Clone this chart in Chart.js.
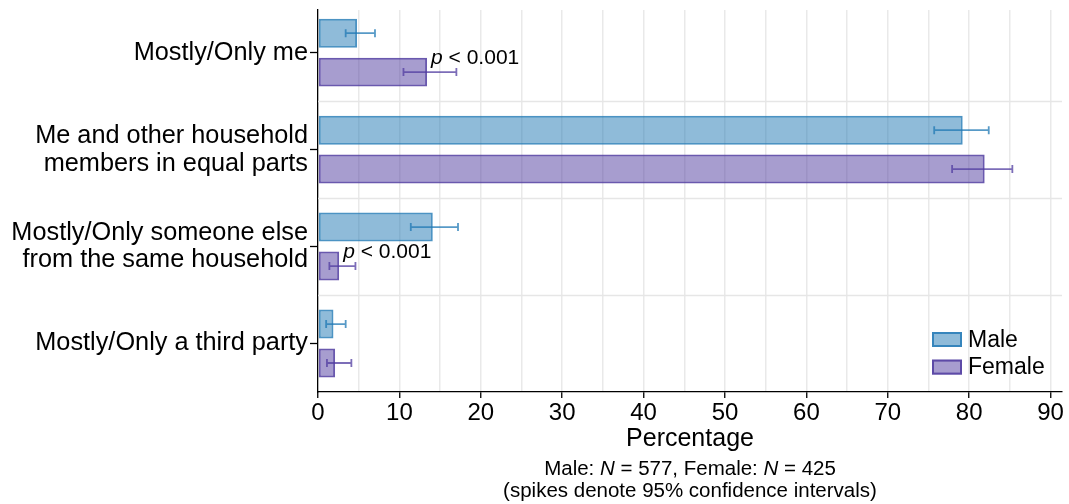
<!DOCTYPE html>
<html>
<head>
<meta charset="utf-8">
<script src="https://cdn.jsdelivr.net/npm/chart.js@4.4.1/dist/chart.umd.min.js"></script>
<style>
  html, body { margin: 0; padding: 0; background: #fff; }
  canvas { display: block; }
</style>
</head>
<body>
<canvas id="chart" width="1069" height="504"></canvas>
<script>
// Who mainly does the task, by sex (percentages with 95% confidence intervals)
const categories = [
  'Mostly/Only me',
  ['Me and other household', 'members in equal parts'],
  ['Mostly/Only someone else', 'from the same household'],
  'Mostly/Only a third party'
];
const seriesNames = ['Male', 'Female'];
const maleValues   = [4.8, 79.2, 14.1, 1.9];
const maleLower    = [3.4, 75.7, 11.4, 1.0];
const maleUpper    = [7.0, 82.4, 17.2, 3.4];
const femaleValues = [13.4, 81.9, 2.6, 2.1];
const femaleLower  = [10.5, 77.9, 1.4, 1.1];
const femaleUpper  = [17.0, 85.3, 4.6, 4.1];
const pValueText   = ['< 0.001', null, '< 0.001', null];
const sampleSizes  = [577, 425];
const xTickValues  = [0, 10, 20, 30, 40, 50, 60, 70, 80, 90];

const FONT = "'Liberation Sans', Arial, Helvetica, sans-serif";
const maleFill = 'rgba(31,120,180,0.5)';
const maleLine = 'rgba(31,120,180,0.8)';
const femaleFill = 'rgba(80,60,160,0.5)';
const femaleLine = 'rgba(80,60,160,0.85)';

const toPoints = (vals) => vals.map((v, i) => ({ x: v, y: i }));

// light separators between the category bands
const bandSeparators = {
  id: 'bandSeparators',
  beforeDatasetsDraw(chart) {
    const { ctx, chartArea, scales: { y } } = chart;
    ctx.save();
    ctx.strokeStyle = '#e6e6e6';
    ctx.lineWidth = 1.5;
    for (let i = 0; i < categories.length - 1; i++) {
      const py = Math.round(y.getPixelForValue(i + 0.5)) + 0.5;
      ctx.beginPath();
      ctx.moveTo(chartArea.left, py);
      ctx.lineTo(chartArea.right, py);
      ctx.stroke();
    }
    ctx.restore();
  }
};

// confidence-interval spikes drawn over each bar
const errorBars = {
  id: 'errorBars',
  afterDatasetsDraw(chart) {
    const { ctx, scales: { x } } = chart;
    ctx.save();
    chart.data.datasets.forEach((ds, di) => {
      const meta = chart.getDatasetMeta(di);
      ctx.strokeStyle = ds.spikeColor;
      ctx.lineWidth = 1.8;
      meta.data.forEach((bar, i) => {
        const x1 = x.getPixelForValue(ds.ciLower[i]);
        const x2 = x.getPixelForValue(ds.ciUpper[i]);
        const cy = bar.y;
        const cap = 4;
        ctx.beginPath();
        ctx.moveTo(x1, cy); ctx.lineTo(x2, cy);
        ctx.moveTo(x1, cy - cap); ctx.lineTo(x1, cy + cap);
        ctx.moveTo(x2, cy - cap); ctx.lineTo(x2, cy + cap);
        ctx.stroke();
      });
    });
    ctx.restore();
  }
};

// significance labels next to the female bars
const pLabels = {
  id: 'pLabels',
  afterDatasetsDraw(chart) {
    const { ctx, scales: { x } } = chart;
    const meta = chart.getDatasetMeta(1);
    ctx.save();
    ctx.fillStyle = '#000';
    ctx.textBaseline = 'middle';
    ctx.textAlign = 'left';
    pValueText.forEach((txt, i) => {
      if (!txt) return;
      const bar = meta.data[i];
      let px = x.getPixelForValue(femaleValues[i]) + 4;
      const py = bar.y - bar.height / 2 + 1;
      ctx.font = `italic 21px ${FONT}`;
      ctx.fillText('p', px, py);
      px += ctx.measureText('p ').width;
      ctx.font = `21px ${FONT}`;
      ctx.fillText(txt, px, py);
    });
    ctx.restore();
  }
};

// legend inside the lower right of the plot
const insideLegend = {
  id: 'insideLegend',
  afterDraw(chart) {
    const { ctx, chartArea } = chart;
    const boxW = 30, boxH = 15, rowH = 27.6;
    const left = chartArea.right - 130;
    let top = chartArea.bottom - 60;
    ctx.save();
    ctx.font = `23px ${FONT}`;
    ctx.textBaseline = 'middle';
    ctx.textAlign = 'left';
    chart.data.datasets.forEach((ds) => {
      ctx.fillStyle = '#fff';
      ctx.fillRect(left, top, boxW, boxH);
      ctx.fillStyle = ds.backgroundColor;
      ctx.fillRect(left, top, boxW, boxH);
      ctx.strokeStyle = ds.borderColor;
      ctx.lineWidth = 2;
      ctx.strokeRect(left + 1, top + 1, boxW - 2, boxH - 2);
      ctx.fillStyle = '#000';
      ctx.fillText(ds.label, left + boxW + 6, top + boxH / 2 + 1);
      top += rowH;
    });
    ctx.restore();
  }
};

// sample-size note under the axis title
const sampleNote = {
  id: 'sampleNote',
  afterDraw(chart) {
    const { ctx, chartArea } = chart;
    const cx = (chartArea.left + chartArea.right) / 2;
    const size = 20.5;
    const line1 = [
      [seriesNames[0] + ': ', false], ['N', true], [' = ' + sampleSizes[0] + ', ' + seriesNames[1] + ': ', false],
      ['N', true], [' = ' + sampleSizes[1], false]
    ];
    const line2 = [['(spikes denote 95% confidence intervals)', false]];
    ctx.save();
    ctx.fillStyle = '#000';
    ctx.textBaseline = 'alphabetic';
    ctx.textAlign = 'left';
    const drawLine = (parts, baseline) => {
      let total = 0;
      parts.forEach(([t, it]) => { ctx.font = `${it ? 'italic ' : ''}${size}px ${FONT}`; total += ctx.measureText(t).width; });
      let px = cx - total / 2;
      parts.forEach(([t, it]) => {
        ctx.font = `${it ? 'italic ' : ''}${size}px ${FONT}`;
        ctx.fillText(t, px, baseline);
        px += ctx.measureText(t).width;
      });
    };
    drawLine(line1, chartArea.bottom + 82.5);
    drawLine(line2, chartArea.bottom + 104.5);
    ctx.restore();
  }
};

new Chart(document.getElementById('chart'), {
  type: 'bar',
  data: {
    datasets: [
      {
        label: seriesNames[0],
        data: toPoints(maleValues),
        ciLower: maleLower, ciUpper: maleUpper,
        backgroundColor: maleFill, borderColor: maleLine, spikeColor: 'rgba(31,120,180,0.75)',
        borderWidth: 2, borderSkipped: false,
        categoryPercentage: 0.803, barPercentage: 0.744
      },
      {
        label: seriesNames[1],
        data: toPoints(femaleValues),
        ciLower: femaleLower, ciUpper: femaleUpper,
        backgroundColor: femaleFill, borderColor: femaleLine, spikeColor: 'rgba(80,60,160,0.75)',
        borderWidth: 2, borderSkipped: false,
        categoryPercentage: 0.803, barPercentage: 0.744
      }
    ]
  },
  options: {
    indexAxis: 'y',
    responsive: false,
    animation: false,
    devicePixelRatio: 1,
    layout: { padding: { top: 10, right: 7, left: 0, bottom: 0 } },
    plugins: {
      legend: { display: false },
      tooltip: { enabled: false }
    },
    scales: {
      x: {
        type: 'linear',
        min: 0,
        max: 91.4,
        afterFit(scale) { scale.height = 112; },
        ticks: {
          stepSize: 5,
          includeBounds: false,
          autoSkip: false,
          maxRotation: 0,
          padding: 1,
          color: '#000',
          font: { family: FONT, size: 24 },
          callback: (v) => (xTickValues.includes(v) ? String(v) : '')
        },
        grid: {
          color: (c) => (c.tick && c.tick.value === 0 ? 'rgba(0,0,0,0)' : '#e9e9e9'),
          lineWidth: 1.5,
          tickLength: 6,
          tickColor: (c) => (c.tick && xTickValues.includes(c.tick.value) ? '#000' : 'rgba(0,0,0,0)'),
          tickWidth: 1.3
        },
        border: { display: true, color: '#000', width: 1.3 },
        title: {
          display: true,
          text: 'Percentage',
          color: '#000',
          font: { family: FONT, size: 25 },
          padding: { top: 0, bottom: 50 }
        }
      },
      y: {
        type: 'linear',
        reverse: true,
        offset: false,
        min: -0.44,
        max: 3.5,
        afterFit(scale) {
          scale.width = 318;
          scale.paddingTop = 0;
          scale.paddingBottom = 0;
        },
        afterBuildTicks(scale) { scale.ticks = categories.map((_, i) => ({ value: i })); },
        ticks: {
          autoSkip: false,
          padding: 2,
          color: '#000',
          font: { family: FONT, size: 25.3, lineHeight: 1.1 },
          callback: (v) => categories[v]
        },
        grid: {
          offset: false,
          drawOnChartArea: false,
          drawTicks: true,
          tickLength: 8,
          tickColor: '#000',
          tickWidth: 1.3
        },
        border: { display: true, color: '#000', width: 1.3 }
      }
    }
  },
  plugins: [bandSeparators, errorBars, pLabels, insideLegend, sampleNote]
});
</script>
</body>
</html>
